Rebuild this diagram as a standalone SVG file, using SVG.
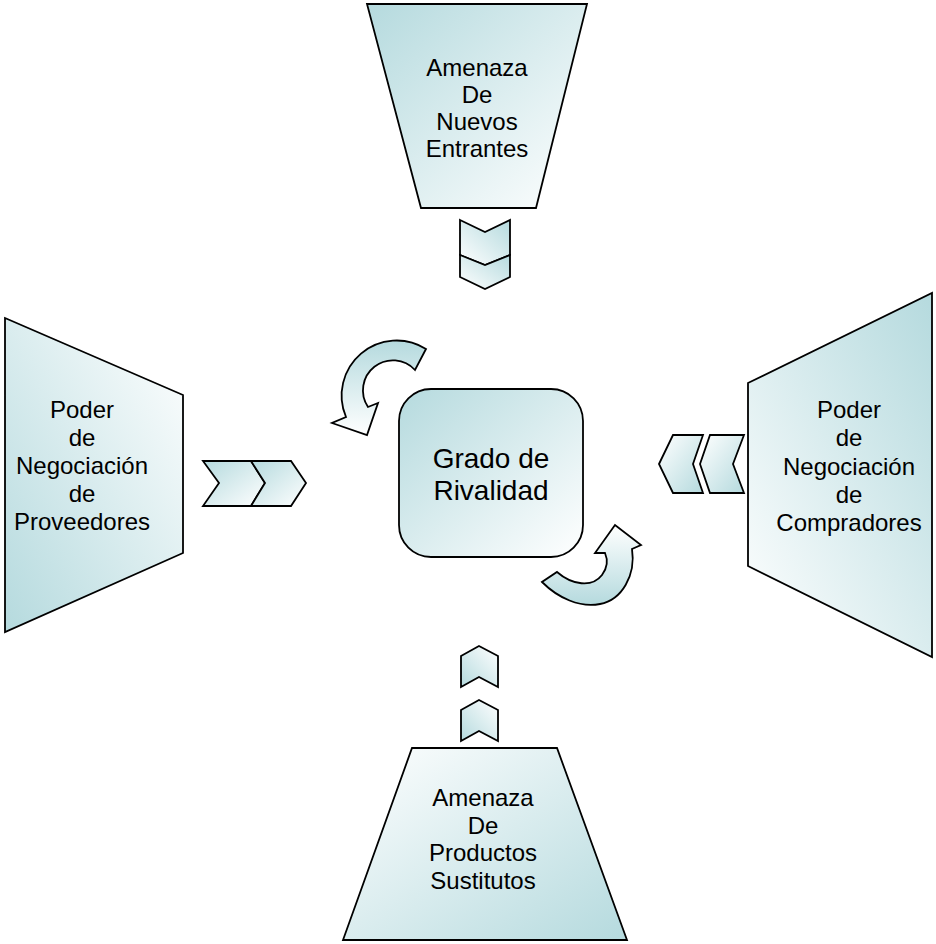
<svg xmlns="http://www.w3.org/2000/svg" width="936" height="944" viewBox="0 0 936 944">
  <defs>
    <!-- teal-to-white fills, one per orientation -->
    <linearGradient id="g-tl" x1="0" y1="0" x2="1" y2="1">
      <stop offset="0" stop-color="#b5dade"/>
      <stop offset="1" stop-color="#ffffff"/>
    </linearGradient>
    <linearGradient id="g-br" x1="1" y1="1" x2="0" y2="0">
      <stop offset="0" stop-color="#b5dade"/>
      <stop offset="1" stop-color="#ffffff"/>
    </linearGradient>
    <linearGradient id="g-bl" x1="0" y1="1" x2="1" y2="0">
      <stop offset="0" stop-color="#b5dade"/>
      <stop offset="1" stop-color="#ffffff"/>
    </linearGradient>
    <linearGradient id="g-tr" x1="1" y1="0" x2="0" y2="1">
      <stop offset="0" stop-color="#b5dade"/>
      <stop offset="1" stop-color="#ffffff"/>
    </linearGradient>
    <linearGradient id="g-t" x1="0" y1="0" x2="0" y2="1">
      <stop offset="0" stop-color="#b5dade"/>
      <stop offset="1" stop-color="#ffffff"/>
    </linearGradient>
    <linearGradient id="g-b" x1="0" y1="1" x2="0" y2="0">
      <stop offset="0" stop-color="#b5dade"/>
      <stop offset="1" stop-color="#ffffff"/>
    </linearGradient>
  </defs>
  <style>
    .shape { stroke: #000; stroke-width: 1.8; stroke-linejoin: miter; }
    .lbl { font-family: "Liberation Sans", Arial, sans-serif; font-size: 24px; fill: #000; text-anchor: middle; }
    .big { font-family: "Liberation Sans", Arial, sans-serif; font-size: 28px; fill: #000; text-anchor: middle; }
  </style>

  <rect width="936" height="944" fill="#ffffff"/>

  <!-- top force -->
  <g id="node-entrants">
    <polygon class="shape" fill="url(#g-tl)" points="367,4 587,4 536,208 421,208"/>
    <text class="lbl" x="477" y="76">Amenaza</text>
    <text class="lbl" x="477" y="103">De</text>
    <text class="lbl" x="477" y="130">Nuevos</text>
    <text class="lbl" x="477" y="157">Entrantes</text>
  </g>

  <!-- left force -->
  <g id="node-suppliers">
    <polygon class="shape" fill="url(#g-bl)" points="5,318 183,395 183,553 5,632"/>
    <text class="lbl" x="82" y="418">Poder</text>
    <text class="lbl" x="82" y="446">de</text>
    <text class="lbl" x="82" y="474">Negociación</text>
    <text class="lbl" x="82" y="502">de</text>
    <text class="lbl" x="82" y="530">Proveedores</text>
  </g>

  <!-- right force -->
  <g id="node-buyers">
    <polygon class="shape" fill="url(#g-tr)" points="748,383 932,293 932,657 748,566"/>
    <text class="lbl" x="849" y="418">Poder</text>
    <text class="lbl" x="849" y="446">de</text>
    <text class="lbl" x="849" y="475">Negociación</text>
    <text class="lbl" x="849" y="503">de</text>
    <text class="lbl" x="849" y="531">Compradores</text>
  </g>

  <!-- bottom force -->
  <g id="node-substitutes">
    <polygon class="shape" fill="url(#g-br)" points="412,748 557,748 627,940 343,940"/>
    <text class="lbl" x="483" y="806">Amenaza</text>
    <text class="lbl" x="483" y="834">De</text>
    <text class="lbl" x="483" y="861">Productos</text>
    <text class="lbl" x="483" y="889">Sustitutos</text>
  </g>

  <!-- centre -->
  <g id="node-rivalry">
    <rect class="shape" fill="url(#g-tl)" x="399" y="389" width="184" height="168" rx="32" ry="32"/>
    <text class="big" x="491" y="468">Grado de</text>
    <text class="big" x="491" y="500">Rivalidad</text>
  </g>

  <g id="connectors">
    <!-- downward chevrons under the top force -->
    <polygon class="shape" fill="url(#g-tr)" points="460,220 485,232 510,220 510,255 485,265 460,255"/>
    <polygon class="shape" fill="url(#g-tr)" points="460,255 485,265 510,255 510,277 485,289 460,277"/>

    <!-- rightward chevrons from the left force -->
    <polygon class="shape" fill="url(#g-tl)" points="203,461 251,461 265,483 251,506 203,506 219,483"/>
    <polygon class="shape" fill="url(#g-tl)" points="251,461 291,461 306,483 291,506 251,506 265,483"/>

    <!-- leftward chevrons from the right force -->
    <polygon class="shape" fill="url(#g-br)" points="659,464 673,435 703,435 693,464 703,493 673,493"/>
    <polygon class="shape" fill="url(#g-br)" points="700,464 710,435 744,435 733,464 744,493 710,493"/>

    <!-- upward chevrons above the bottom force -->
    <polygon class="shape" fill="url(#g-bl)" points="479,646 498,656 498,687 479,677 461,687 461,656"/>
    <polygon class="shape" fill="url(#g-bl)" points="479,700 498,710 498,741 479,731 461,741 461,710"/>

    <!-- curved arrows around the centre -->
    <path class="shape" fill="url(#g-t)" d="M426,349 A55,55 0 0 0 346,417 L332,423 L367,435 L378,403 L368,407 A30,30 0 0 1 415,370 Z"/>
    <path class="shape" fill="url(#g-b)" d="M542,582 C558,598 580,608 600,604 C622,600 636,575 632,549 L641,545 L615,525 L595,553 L605,553 C608,560 608,567 602,575 C592,588 572,585 557,572 Z"/>
  </g>
</svg>
